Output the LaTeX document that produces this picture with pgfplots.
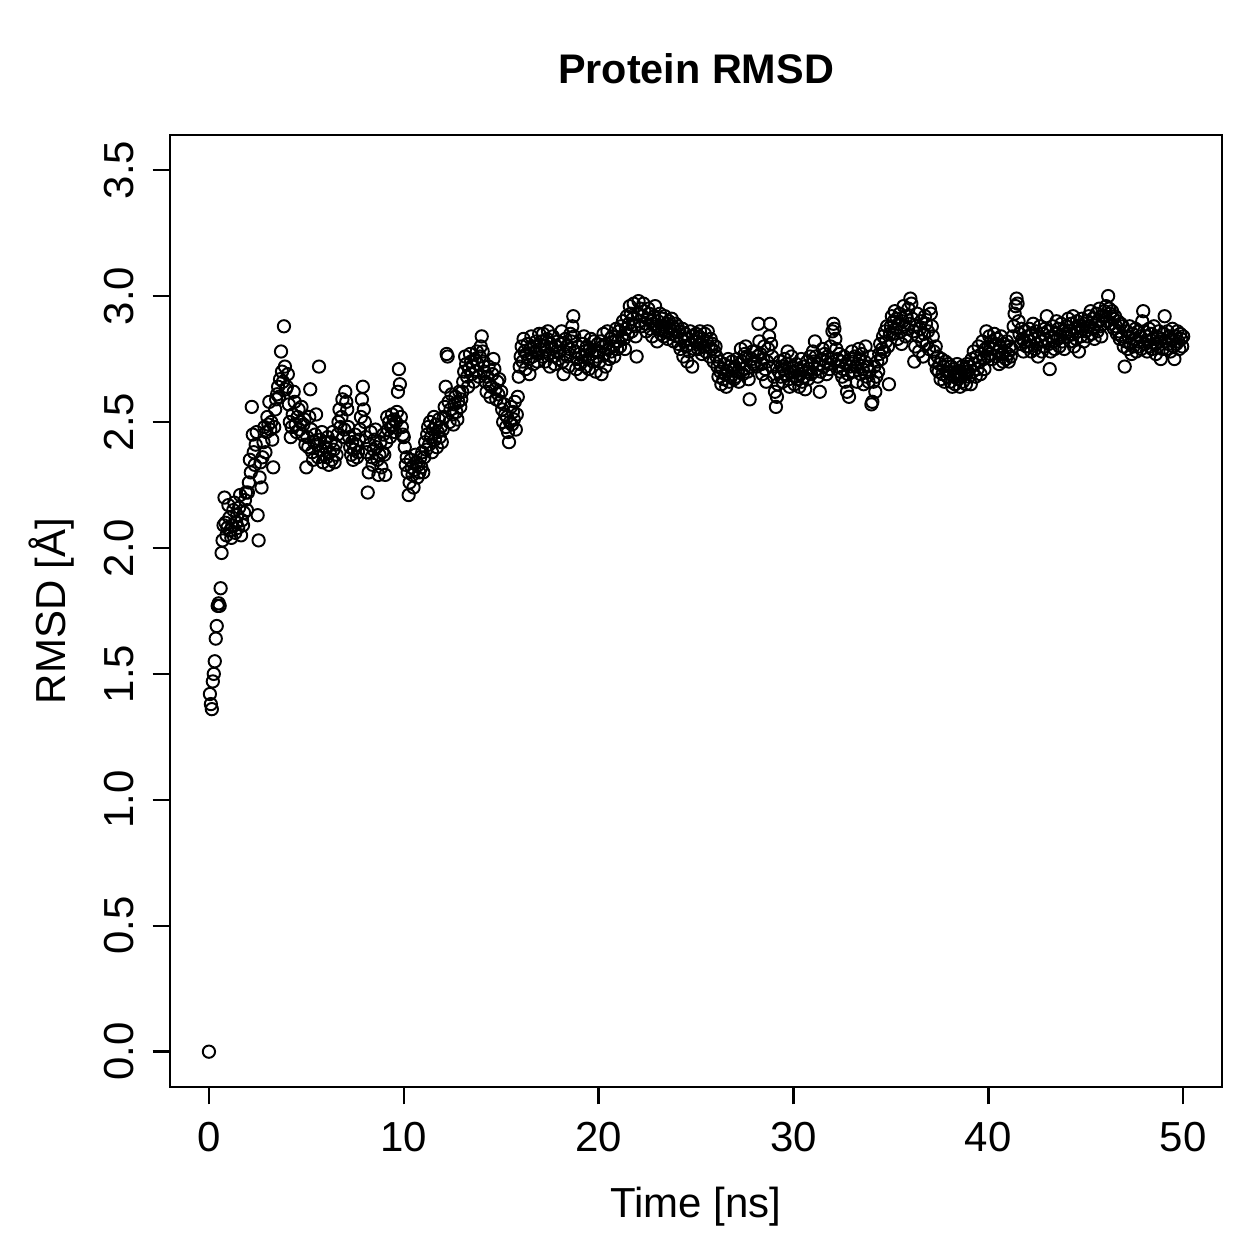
\documentclass[border=0pt]{standalone}
\usepackage{fontspec}
\setmainfont{Liberation Sans}
\usepackage{pgfplots}
\pgfplotsset{compat=1.18}

\begin{document}
\begin{tikzpicture}
\begin{axis}[
  name=ax,
  scale only axis, width=351pt, height=317.6pt,
  xmin=-2, xmax=52, ymin=-0.14, ymax=3.64,
  axis line style={line width=0.8pt},
  xtick={0,10,20,30,40,50},
  ytick={0,0.5,1,1.5,2,2.5,3,3.5},
  tick align=outside, major tick length=5.8pt,
  tick style={line width=0.8pt, black},
  xtick pos=bottom, ytick pos=left,
  /pgf/number format/assume math mode=true,
  ticklabel style={font=\fontsize{14}{16}\selectfont},
  xticklabel style={anchor=north, inner sep=0pt},
  yticklabel style={rotate=90, anchor=base, inner sep=0pt,
    /pgf/number format/.cd, fixed, fixed zerofill, precision=1, /tikz/.cd},
  xticklabel shift=5.9pt,
  yticklabel shift=6.5pt,
  title={Protein RMSD},
  % the default title style already adds yshift=6pt
  title style={at={(axis description cs:0.5,1.0346)}, anchor=base,
    font=\bfseries\fontsize{13.8}{16}\selectfont},
  xlabel={Time [ns]},
  xlabel style={at={(axis description cs:0.5,-0.1367)}, anchor=base,
    font=\fontsize{14}{16}\selectfont},
  ylabel={RMSD [Å]},
  ylabel style={at={(axis description cs:-0.0989,0.5)}, anchor=base,
    font=\fontsize{14}{16}\selectfont},
]
% RMSD sampled every 0.05 ns (20 frames per ns, one ns per line)
\addplot[only marks, mark=o, mark size=2.05pt, black,
  mark options={line width=0.65pt}]
  table[row sep=\\, x expr=\coordindex*0.05, y=rmsd] {
rmsd\\
0.00\\ 1.42\\ 1.38\\ 1.36\\ 1.47\\ 1.50\\ 1.55\\ 1.64\\ 1.69\\ 1.77\\ 1.78\\ 1.77\\ 1.84\\ 1.98\\ 2.03\\ 2.09\\ 2.20\\ 2.10\\ 2.05\\ 2.08\\
2.17\\ 2.12\\ 2.07\\ 2.04\\ 2.09\\ 2.15\\ 2.18\\ 2.06\\ 2.10\\ 2.13\\ 2.08\\ 2.16\\ 2.21\\ 2.05\\ 2.11\\ 2.09\\ 2.14\\ 2.19\\ 2.22\\ 2.15\\
2.22\\ 2.26\\ 2.35\\ 2.30\\ 2.56\\ 2.45\\ 2.38\\ 2.33\\ 2.41\\ 2.46\\ 2.13\\ 2.03\\ 2.28\\ 2.34\\ 2.24\\ 2.36\\ 2.42\\ 2.48\\ 2.38\\ 2.46\\
2.52\\ 2.49\\ 2.58\\ 2.47\\ 2.50\\ 2.43\\ 2.32\\ 2.48\\ 2.55\\ 2.59\\ 2.61\\ 2.64\\ 2.60\\ 2.67\\ 2.78\\ 2.70\\ 2.66\\ 2.88\\ 2.72\\ 2.63\\
2.64\\ 2.69\\ 2.57\\ 2.50\\ 2.44\\ 2.48\\ 2.53\\ 2.62\\ 2.58\\ 2.49\\ 2.46\\ 2.52\\ 2.55\\ 2.47\\ 2.50\\ 2.56\\ 2.45\\ 2.49\\ 2.51\\ 2.41\\
2.32\\ 2.44\\ 2.40\\ 2.52\\ 2.63\\ 2.47\\ 2.38\\ 2.35\\ 2.42\\ 2.45\\ 2.53\\ 2.41\\ 2.36\\ 2.72\\ 2.43\\ 2.39\\ 2.46\\ 2.34\\ 2.37\\ 2.42\\
2.40\\ 2.36\\ 2.44\\ 2.33\\ 2.38\\ 2.42\\ 2.35\\ 2.46\\ 2.39\\ 2.34\\ 2.41\\ 2.37\\ 2.45\\ 2.50\\ 2.55\\ 2.48\\ 2.52\\ 2.59\\ 2.44\\ 2.47\\
2.62\\ 2.58\\ 2.55\\ 2.48\\ 2.44\\ 2.40\\ 2.37\\ 2.42\\ 2.35\\ 2.39\\ 2.45\\ 2.41\\ 2.36\\ 2.38\\ 2.43\\ 2.47\\ 2.52\\ 2.59\\ 2.64\\ 2.55\\
2.50\\ 2.44\\ 2.38\\ 2.22\\ 2.30\\ 2.41\\ 2.46\\ 2.36\\ 2.33\\ 2.39\\ 2.43\\ 2.47\\ 2.40\\ 2.35\\ 2.29\\ 2.37\\ 2.42\\ 2.32\\ 2.38\\ 2.45\\
2.37\\ 2.29\\ 2.42\\ 2.52\\ 2.47\\ 2.50\\ 2.44\\ 2.48\\ 2.53\\ 2.49\\ 2.51\\ 2.46\\ 2.50\\ 2.54\\ 2.62\\ 2.71\\ 2.65\\ 2.52\\ 2.48\\ 2.45\\
2.44\\ 2.40\\ 2.33\\ 2.36\\ 2.30\\ 2.21\\ 2.26\\ 2.35\\ 2.32\\ 2.29\\ 2.24\\ 2.31\\ 2.37\\ 2.34\\ 2.28\\ 2.33\\ 2.30\\ 2.36\\ 2.32\\ 2.38\\
2.30\\ 2.36\\ 2.42\\ 2.39\\ 2.45\\ 2.48\\ 2.41\\ 2.50\\ 2.44\\ 2.38\\ 2.47\\ 2.52\\ 2.43\\ 2.49\\ 2.40\\ 2.46\\ 2.51\\ 2.44\\ 2.48\\ 2.42\\
2.47\\ 2.52\\ 2.56\\ 2.64\\ 2.77\\ 2.76\\ 2.58\\ 2.50\\ 2.55\\ 2.61\\ 2.53\\ 2.49\\ 2.57\\ 2.60\\ 2.54\\ 2.51\\ 2.58\\ 2.62\\ 2.56\\ 2.59\\
2.62\\ 2.66\\ 2.70\\ 2.76\\ 2.73\\ 2.68\\ 2.64\\ 2.71\\ 2.77\\ 2.74\\ 2.69\\ 2.72\\ 2.66\\ 2.75\\ 2.70\\ 2.78\\ 2.73\\ 2.68\\ 2.76\\ 2.80\\
2.84\\ 2.78\\ 2.74\\ 2.70\\ 2.66\\ 2.62\\ 2.68\\ 2.72\\ 2.65\\ 2.60\\ 2.64\\ 2.69\\ 2.75\\ 2.71\\ 2.63\\ 2.59\\ 2.66\\ 2.61\\ 2.67\\ 2.58\\
2.62\\ 2.55\\ 2.50\\ 2.57\\ 2.53\\ 2.48\\ 2.52\\ 2.46\\ 2.42\\ 2.50\\ 2.56\\ 2.49\\ 2.54\\ 2.51\\ 2.58\\ 2.47\\ 2.53\\ 2.60\\ 2.68\\ 2.72\\
2.76\\ 2.80\\ 2.74\\ 2.83\\ 2.78\\ 2.71\\ 2.77\\ 2.81\\ 2.75\\ 2.69\\ 2.79\\ 2.84\\ 2.76\\ 2.73\\ 2.80\\ 2.78\\ 2.82\\ 2.74\\ 2.77\\ 2.85\\
2.79\\ 2.82\\ 2.76\\ 2.85\\ 2.80\\ 2.74\\ 2.78\\ 2.83\\ 2.86\\ 2.77\\ 2.72\\ 2.81\\ 2.79\\ 2.84\\ 2.76\\ 2.73\\ 2.80\\ 2.78\\ 2.82\\ 2.75\\
2.78\\ 2.81\\ 2.86\\ 2.74\\ 2.69\\ 2.77\\ 2.83\\ 2.80\\ 2.76\\ 2.72\\ 2.79\\ 2.85\\ 2.82\\ 2.88\\ 2.92\\ 2.84\\ 2.78\\ 2.71\\ 2.75\\ 2.80\\
2.77\\ 2.73\\ 2.69\\ 2.76\\ 2.81\\ 2.84\\ 2.78\\ 2.72\\ 2.80\\ 2.75\\ 2.71\\ 2.79\\ 2.83\\ 2.77\\ 2.74\\ 2.82\\ 2.78\\ 2.70\\ 2.76\\ 2.81\\
2.78\\ 2.74\\ 2.82\\ 2.69\\ 2.80\\ 2.85\\ 2.77\\ 2.72\\ 2.81\\ 2.86\\ 2.79\\ 2.75\\ 2.83\\ 2.78\\ 2.84\\ 2.80\\ 2.76\\ 2.82\\ 2.87\\ 2.79\\
2.82\\ 2.86\\ 2.80\\ 2.88\\ 2.84\\ 2.90\\ 2.83\\ 2.79\\ 2.87\\ 2.92\\ 2.85\\ 2.89\\ 2.96\\ 2.93\\ 2.86\\ 2.91\\ 2.97\\ 2.88\\ 2.84\\ 2.76\\
2.93\\ 2.98\\ 2.90\\ 2.95\\ 2.88\\ 2.92\\ 2.97\\ 2.94\\ 2.89\\ 2.86\\ 2.91\\ 2.95\\ 2.93\\ 2.87\\ 2.90\\ 2.84\\ 2.89\\ 2.92\\ 2.96\\ 2.88\\
2.82\\ 2.90\\ 2.87\\ 2.93\\ 2.85\\ 2.91\\ 2.88\\ 2.84\\ 2.92\\ 2.86\\ 2.89\\ 2.83\\ 2.90\\ 2.87\\ 2.85\\ 2.91\\ 2.88\\ 2.82\\ 2.86\\ 2.89\\
2.84\\ 2.88\\ 2.81\\ 2.86\\ 2.79\\ 2.83\\ 2.87\\ 2.76\\ 2.82\\ 2.85\\ 2.80\\ 2.74\\ 2.83\\ 2.78\\ 2.86\\ 2.81\\ 2.72\\ 2.84\\ 2.79\\ 2.82\\
2.85\\ 2.82\\ 2.79\\ 2.84\\ 2.86\\ 2.81\\ 2.77\\ 2.83\\ 2.80\\ 2.85\\ 2.78\\ 2.82\\ 2.86\\ 2.80\\ 2.76\\ 2.83\\ 2.79\\ 2.81\\ 2.74\\ 2.78\\
2.80\\ 2.76\\ 2.72\\ 2.68\\ 2.74\\ 2.70\\ 2.65\\ 2.71\\ 2.67\\ 2.73\\ 2.69\\ 2.64\\ 2.70\\ 2.75\\ 2.66\\ 2.72\\ 2.68\\ 2.74\\ 2.71\\ 2.67\\
2.72\\ 2.68\\ 2.75\\ 2.70\\ 2.66\\ 2.73\\ 2.79\\ 2.74\\ 2.69\\ 2.71\\ 2.77\\ 2.80\\ 2.76\\ 2.70\\ 2.67\\ 2.59\\ 2.72\\ 2.75\\ 2.78\\ 2.73\\
2.74\\ 2.78\\ 2.72\\ 2.76\\ 2.89\\ 2.82\\ 2.77\\ 2.73\\ 2.69\\ 2.75\\ 2.80\\ 2.71\\ 2.66\\ 2.74\\ 2.79\\ 2.84\\ 2.89\\ 2.81\\ 2.76\\ 2.72\\
2.68\\ 2.62\\ 2.56\\ 2.60\\ 2.65\\ 2.70\\ 2.74\\ 2.68\\ 2.72\\ 2.66\\ 2.71\\ 2.75\\ 2.69\\ 2.73\\ 2.78\\ 2.67\\ 2.64\\ 2.70\\ 2.76\\ 2.72\\
2.70\\ 2.65\\ 2.68\\ 2.73\\ 2.67\\ 2.71\\ 2.64\\ 2.69\\ 2.75\\ 2.66\\ 2.72\\ 2.68\\ 2.63\\ 2.70\\ 2.74\\ 2.67\\ 2.71\\ 2.76\\ 2.69\\ 2.73\\
2.78\\ 2.74\\ 2.82\\ 2.76\\ 2.71\\ 2.68\\ 2.73\\ 2.62\\ 2.70\\ 2.75\\ 2.79\\ 2.72\\ 2.77\\ 2.74\\ 2.69\\ 2.76\\ 2.73\\ 2.71\\ 2.80\\ 2.75\\
2.86\\ 2.89\\ 2.87\\ 2.83\\ 2.79\\ 2.75\\ 2.72\\ 2.77\\ 2.70\\ 2.74\\ 2.68\\ 2.71\\ 2.76\\ 2.66\\ 2.73\\ 2.62\\ 2.69\\ 2.60\\ 2.72\\ 2.75\\
2.78\\ 2.74\\ 2.70\\ 2.76\\ 2.72\\ 2.66\\ 2.73\\ 2.79\\ 2.75\\ 2.69\\ 2.77\\ 2.71\\ 2.65\\ 2.74\\ 2.80\\ 2.68\\ 2.72\\ 2.66\\ 2.70\\ 2.76\\
2.57\\ 2.58\\ 2.66\\ 2.72\\ 2.62\\ 2.68\\ 2.74\\ 2.70\\ 2.77\\ 2.81\\ 2.75\\ 2.79\\ 2.84\\ 2.78\\ 2.86\\ 2.82\\ 2.88\\ 2.80\\ 2.65\\ 2.85\\
2.88\\ 2.92\\ 2.85\\ 2.90\\ 2.94\\ 2.87\\ 2.91\\ 2.83\\ 2.89\\ 2.93\\ 2.86\\ 2.81\\ 2.90\\ 2.96\\ 2.88\\ 2.84\\ 2.92\\ 2.87\\ 2.95\\ 2.89\\
2.99\\ 2.97\\ 2.91\\ 2.86\\ 2.74\\ 2.80\\ 2.88\\ 2.93\\ 2.84\\ 2.78\\ 2.87\\ 2.90\\ 2.82\\ 2.76\\ 2.85\\ 2.92\\ 2.89\\ 2.81\\ 2.86\\ 2.79\\
2.95\\ 2.93\\ 2.88\\ 2.84\\ 2.78\\ 2.74\\ 2.80\\ 2.71\\ 2.76\\ 2.70\\ 2.73\\ 2.67\\ 2.75\\ 2.69\\ 2.72\\ 2.66\\ 2.74\\ 2.70\\ 2.68\\ 2.73\\
2.70\\ 2.66\\ 2.72\\ 2.64\\ 2.68\\ 2.71\\ 2.65\\ 2.69\\ 2.73\\ 2.67\\ 2.70\\ 2.64\\ 2.68\\ 2.72\\ 2.66\\ 2.71\\ 2.69\\ 2.65\\ 2.73\\ 2.70\\
2.68\\ 2.72\\ 2.65\\ 2.75\\ 2.70\\ 2.78\\ 2.73\\ 2.68\\ 2.76\\ 2.71\\ 2.80\\ 2.74\\ 2.69\\ 2.77\\ 2.82\\ 2.75\\ 2.71\\ 2.79\\ 2.86\\ 2.76\\
2.80\\ 2.84\\ 2.77\\ 2.82\\ 2.75\\ 2.79\\ 2.85\\ 2.81\\ 2.76\\ 2.83\\ 2.78\\ 2.73\\ 2.80\\ 2.84\\ 2.77\\ 2.74\\ 2.81\\ 2.78\\ 2.75\\ 2.82\\
2.77\\ 2.74\\ 2.80\\ 2.76\\ 2.79\\ 2.84\\ 2.88\\ 2.93\\ 2.96\\ 2.99\\ 2.97\\ 2.90\\ 2.85\\ 2.81\\ 2.87\\ 2.83\\ 2.78\\ 2.82\\ 2.86\\ 2.80\\
2.84\\ 2.80\\ 2.87\\ 2.82\\ 2.78\\ 2.85\\ 2.89\\ 2.83\\ 2.79\\ 2.86\\ 2.81\\ 2.76\\ 2.84\\ 2.88\\ 2.82\\ 2.78\\ 2.85\\ 2.80\\ 2.87\\ 2.83\\
2.92\\ 2.86\\ 2.81\\ 2.71\\ 2.78\\ 2.84\\ 2.88\\ 2.82\\ 2.79\\ 2.85\\ 2.90\\ 2.83\\ 2.87\\ 2.80\\ 2.84\\ 2.89\\ 2.82\\ 2.86\\ 2.79\\ 2.85\\
2.88\\ 2.84\\ 2.91\\ 2.86\\ 2.82\\ 2.89\\ 2.85\\ 2.92\\ 2.80\\ 2.87\\ 2.83\\ 2.90\\ 2.86\\ 2.78\\ 2.88\\ 2.84\\ 2.91\\ 2.87\\ 2.82\\ 2.89\\
2.86\\ 2.90\\ 2.84\\ 2.92\\ 2.88\\ 2.94\\ 2.85\\ 2.91\\ 2.87\\ 2.83\\ 2.89\\ 2.93\\ 2.86\\ 2.90\\ 2.95\\ 2.88\\ 2.84\\ 2.92\\ 2.89\\ 2.94\\
2.92\\ 2.96\\ 2.90\\ 3.00\\ 2.95\\ 2.93\\ 2.89\\ 2.94\\ 2.91\\ 2.87\\ 2.92\\ 2.88\\ 2.85\\ 2.90\\ 2.86\\ 2.83\\ 2.89\\ 2.84\\ 2.88\\ 2.80\\
2.72\\ 2.82\\ 2.86\\ 2.79\\ 2.84\\ 2.88\\ 2.81\\ 2.77\\ 2.85\\ 2.80\\ 2.83\\ 2.87\\ 2.78\\ 2.82\\ 2.86\\ 2.80\\ 2.84\\ 2.79\\ 2.90\\ 2.94\\
2.86\\ 2.81\\ 2.84\\ 2.78\\ 2.82\\ 2.87\\ 2.80\\ 2.85\\ 2.79\\ 2.83\\ 2.88\\ 2.81\\ 2.77\\ 2.84\\ 2.80\\ 2.86\\ 2.82\\ 2.75\\ 2.83\\ 2.79\\
2.85\\ 2.92\\ 2.82\\ 2.79\\ 2.86\\ 2.81\\ 2.84\\ 2.78\\ 2.83\\ 2.87\\ 2.80\\ 2.75\\ 2.84\\ 2.81\\ 2.86\\ 2.82\\ 2.79\\ 2.85\\ 2.83\\ 2.80\\
2.84\\
};
\end{axis}
% page frame: 420pt square around the axis box
\path (ax.south west) ++(-56.7pt,-57.4pt) rectangle ++(420pt,420pt);
\end{tikzpicture}
\end{document}
